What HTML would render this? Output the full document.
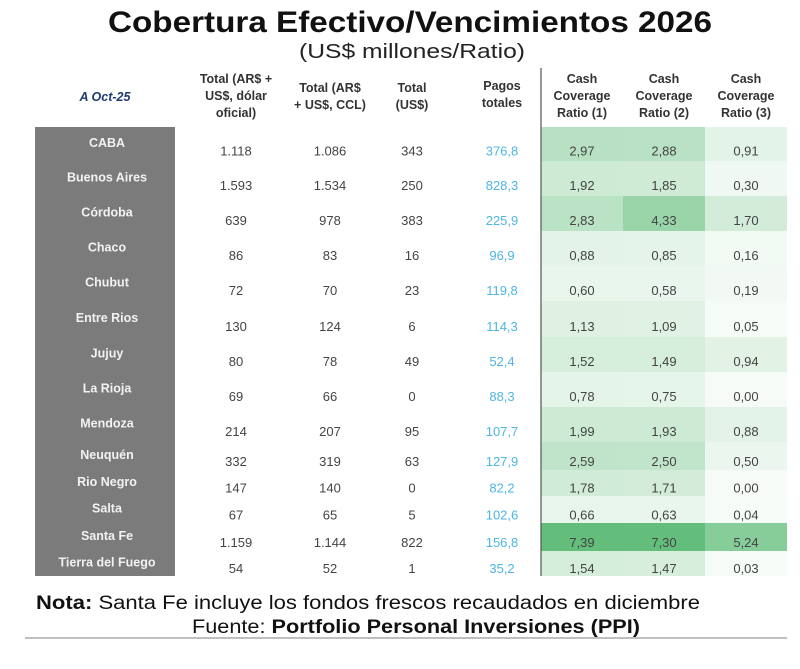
<!DOCTYPE html>
<html><head><meta charset="utf-8"><style>
body{margin:0;background:#fff;font-family:"Liberation Sans",sans-serif}
svg{display:block}
</style></head><body>
<svg width="800" height="669" viewBox="0 0 800 669">
<text x="410" y="32" text-anchor="middle" font-size="30" font-weight="bold" fill="#111" textLength="604" lengthAdjust="spacingAndGlyphs">Cobertura Efectivo/Vencimientos 2026</text>
<text x="412" y="58" text-anchor="middle" font-size="20" fill="#222" textLength="226" lengthAdjust="spacingAndGlyphs">(US$ millones/Ratio)</text>
<g id="hdr" font-size="12.5" font-weight="bold" fill="#333" text-anchor="middle"></g>
<g id="body"></g>
<line x1="541" y1="68" x2="541" y2="576" stroke="#555" stroke-width="1.2"/>
<text x="36" y="609" font-size="19" fill="#111" textLength="664" lengthAdjust="spacingAndGlyphs"><tspan font-weight="bold">Nota:</tspan> Santa Fe incluye los fondos frescos recaudados en diciembre</text>
<text x="192" y="633" font-size="19" fill="#111" textLength="448" lengthAdjust="spacingAndGlyphs">Fuente: <tspan font-weight="bold">Portfolio Personal Inversiones (PPI)</tspan></text>
<line x1="25" y1="638" x2="787" y2="638" stroke="#999" stroke-width="1.2"/>
</svg>
<script>
const provinces=["CABA","Buenos Aires","Córdoba","Chaco","Chubut","Entre Rios","Jujuy","La Rioja","Mendoza","Neuquén","Rio Negro","Salta","Santa Fe","Tierra del Fuego"];
const totalOficial=["1.118","1.593","639","86","72","130","80","69","214","332","147","67","1.159","54"];
const totalCCL=["1.086","1.534","978","83","70","124","78","66","207","319","140","65","1.144","52"];
const totalUSD=["343","250","383","16","23","6","49","0","95","63","0","5","822","1"];
const pagos=[376.8,828.3,225.9,96.9,119.8,114.3,52.4,88.3,107.7,127.9,82.2,102.6,156.8,35.2];
const ccr1=[2.97,1.92,2.83,0.88,0.60,1.13,1.52,0.78,1.99,2.59,1.78,0.66,7.39,1.54];
const ccr2=[2.88,1.85,4.33,0.85,0.58,1.09,1.49,0.75,1.93,2.50,1.71,0.63,7.30,1.47];
const ccr3=[0.91,0.30,1.70,0.16,0.19,0.05,0.94,0.00,0.88,0.50,0.00,0.04,5.24,0.03];
const headers=[["A Oct-25"],["Total (AR$ +","US$, dólar","oficial)"],["Total (AR$","+ US$, CCL)"],["Total","(US$)"],["Pagos","totales"],["Cash","Coverage","Ratio (1)"],["Cash","Coverage","Ratio (2)"],["Cash","Coverage","Ratio (3)"]];
const NS="http://www.w3.org/2000/svg";
const colX=[107,236,330,412,502,582,664,746];
const rowB=[127,161,196,231,266,301,337,372,407,442,470,496,523,551,576];
function mk(t,a,p){const e=document.createElementNS(NS,t);for(const k in a)e.setAttribute(k,a[k]);p.appendChild(e);return e;}
const hdr=document.getElementById('hdr'),body=document.getElementById('body');
headers.forEach((h,i)=>{
  const y0=i==0?101:(h.length==3?83:(i==4?90:92));
  h.forEach((ln,j)=>{
    const t=mk('text',{x:colX[i]-(i==0?2:0),y:y0+j*17},hdr);
    if(i==0){t.setAttribute('font-style','italic');t.setAttribute('fill','#1f3a6e');}
    t.textContent=ln;
    
    
  });
});
const gray=mk('rect',{x:35,y:127,width:140,height:449,fill:'#7b7b7b'},body);


function green(v){const f=Math.min(1,0.06+v/7.39);const w=[255,255,255],g=[99,190,123];return 'rgb('+w.map((c,i)=>Math.round(c+(g[i]-c)*f)).join(',')+')';}
const fmt=v=>v.toFixed(2).replace('.',',');
provinces.forEach((p,r)=>{
  const top=rowB[r],bot=rowB[r+1],h=bot-top;
  const vy=top+h*0.72+4, ny=top+h*0.5+3;
  [ccr1,ccr2,ccr3].forEach((arr,k)=>{
    const c=mk('rect',{x:541+k*82,y:top,width:82,height:h,fill:green(arr[r])},body);
    
    
  });
  const n=mk('text',{x:colX[0],y:ny,'text-anchor':'middle','font-size':12.5,'font-weight':'bold',fill:'#f2f2f2'},body);
  n.textContent=p;
  
  
  const vals=[totalOficial[r],totalCCL[r],totalUSD[r],pagos[r].toFixed(1).replace('.',','),fmt(ccr1[r]),fmt(ccr2[r]),fmt(ccr3[r])];
  vals.forEach((v,i)=>{
    const t=mk('text',{x:colX[i+1],y:vy,'text-anchor':'middle','font-size':13,fill:i==3?'#4db6e6':'#444'},body);
    t.textContent=v;
    
    
  });
});
</script>
</body></html>
